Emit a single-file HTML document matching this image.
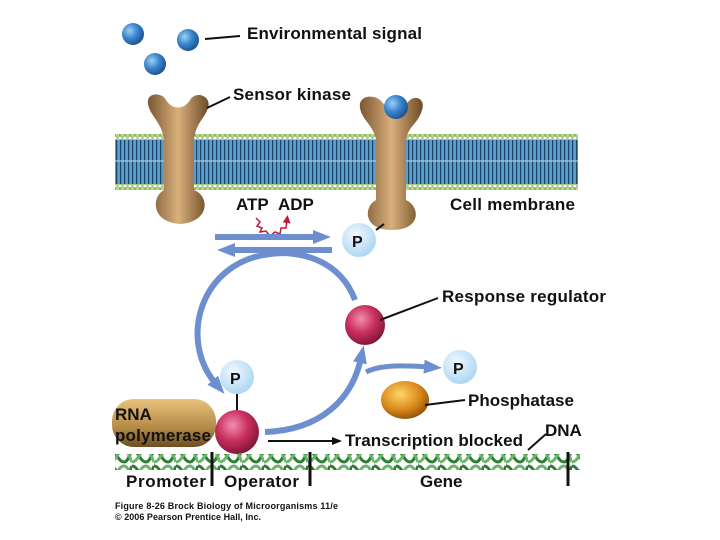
<!DOCTYPE html>
<html><head><style>body{margin:0;background:#fff}svg{display:block}text{font-family:"Liberation Sans",sans-serif;font-weight:bold;fill:#111}</style></head><body>
<svg width="720" height="540" viewBox="0 0 720 540">
<defs>
<radialGradient id="bl" cx="0.35" cy="0.35" r="0.7"><stop offset="0" stop-color="#9cd0f5"/><stop offset="0.5" stop-color="#3a86d0"/><stop offset="1" stop-color="#1d4f8e"/></radialGradient>
<radialGradient id="pk" cx="0.4" cy="0.35" r="0.7"><stop offset="0" stop-color="#f08fb0"/><stop offset="0.5" stop-color="#c9305f"/><stop offset="1" stop-color="#7a1235"/></radialGradient>
<radialGradient id="lp" cx="0.4" cy="0.35" r="0.7"><stop offset="0" stop-color="#f2f9ff"/><stop offset="1" stop-color="#a9d4f2"/></radialGradient>
<radialGradient id="or" cx="0.4" cy="0.35" r="0.7"><stop offset="0" stop-color="#ffd56a"/><stop offset="0.6" stop-color="#d9881a"/><stop offset="1" stop-color="#8a4c0a"/></radialGradient>
<linearGradient id="br" x1="0" x2="1"><stop offset="0" stop-color="#7a5630"/><stop offset="0.5" stop-color="#d9b07c"/><stop offset="1" stop-color="#6b4a26"/></linearGradient>
<linearGradient id="rp" x1="0" y1="0" x2="0" y2="1"><stop offset="0" stop-color="#e8c27c"/><stop offset="0.6" stop-color="#b58a46"/><stop offset="1" stop-color="#6d4e22"/></linearGradient>
<pattern id="mem" width="4" height="50" patternUnits="userSpaceOnUse"><rect width="4" height="50" fill="#5b9ccc"/><rect x="0" width="1.2" height="50" fill="#1c4668"/></pattern>
<pattern id="bead" width="5" height="6" patternUnits="userSpaceOnUse"><circle cx="2.5" cy="3" r="2.3" fill="#b6d88a" stroke="#6a9a44" stroke-width="0.6"/></pattern>
<pattern id="dna" width="22" height="16" patternUnits="userSpaceOnUse"><path d="M0 2 C6 2 8 14 14 14 C18 14 20 6 22 2" stroke="#2e7d32" stroke-width="3" fill="none"/><path d="M0 14 C6 14 8 2 14 2 C18 2 20 10 22 14" stroke="#6cb46c" stroke-width="3" fill="none"/></pattern>
<marker id="ah" markerUnits="userSpaceOnUse" markerWidth="18" markerHeight="18" refX="5" refY="9" orient="auto"><path d="M0,2 L18,9 L0,16z" fill="#6e8fcf"/></marker>
<marker id="ak" markerUnits="userSpaceOnUse" markerWidth="10" markerHeight="8" refX="8" refY="4" orient="auto"><path d="M0,0 L10,4 L0,8z" fill="#111"/></marker>
<marker id="ar" markerUnits="userSpaceOnUse" markerWidth="8" markerHeight="8" refX="3" refY="4" orient="auto"><path d="M0,0 L8,4 L0,8z" fill="#c2183a"/></marker>
</defs>
<rect x="115" y="140" width="463" height="44" fill="url(#mem)"/>
<rect x="115" y="160" width="463" height="2" fill="#a8cce8" opacity="0.6"/>
<rect x="115" y="134" width="463" height="6" fill="url(#bead)"/>
<rect x="115" y="184" width="463" height="6" fill="url(#bead)"/>
<path d="M148 104 C146 92 162 92 166 100 C172 110 184 110 190 100 C196 90 212 96 208 108 C204 120 196 122 194 140 L194 190 C210 196 210 222 180 224 C150 222 152 196 164 190 L164 140 C162 122 150 116 148 104Z" fill="url(#br)"/>
<path d="M360 108 C358 94 376 94 382 102 C388 110 402 110 408 102 C414 94 426 98 422 110 C418 124 408 126 406 140 L406 200 C420 206 422 230 392 230 C362 230 364 206 376 200 L376 140 C374 126 362 120 360 108Z" fill="url(#br)"/>
<circle cx="396" cy="107" r="12" fill="url(#bl)"/>
<circle cx="133" cy="34" r="11" fill="url(#bl)"/>
<circle cx="188" cy="40" r="11" fill="url(#bl)"/>
<circle cx="155" cy="64" r="11" fill="url(#bl)"/>
<line x1="205" y1="39" x2="240" y2="36" stroke="#111" stroke-width="2"/>
<text x="247" y="39" font-size="17" textLength="175">Environmental signal</text>
<line x1="207" y1="108" x2="230" y2="97" stroke="#111" stroke-width="2"/>
<text x="233" y="100" font-size="17" textLength="118">Sensor kinase</text>
<text x="450" y="210" font-size="17" textLength="125">Cell membrane</text>
<text x="236" y="210" font-size="17">ATP</text><text x="278" y="210" font-size="17">ADP</text>
<path d="M256 218 l4 4 l-3 4 l5 2 l-2 4 l6 -1 l4 5 l5 -4 l5 2 l1 -6 l5 0 l1 -8" stroke="#c2183a" stroke-width="1.5" fill="none" marker-end="url(#ar)"/>
<g stroke="#6e8fcf" stroke-width="6" fill="none">
<line x1="215" y1="237" x2="318" y2="237" marker-end="url(#ah)"/>
<line x1="332" y1="250" x2="230" y2="250" marker-end="url(#ah)"/>
<path d="M355 300 C340 260 300 250 270 254 C200 262 178 340 216 384" marker-end="url(#ah)"/>
<path d="M265 432 C320 430 352 400 361 358" marker-end="url(#ah)"/>
<path d="M366 372 C380 365 400 365 429 367" stroke-width="5" marker-end="url(#ah)"/>
</g>
<circle cx="359" cy="240" r="17" fill="url(#lp)"/><text x="352" y="247" font-size="16">P</text>
<line x1="376" y1="230" x2="384" y2="224" stroke="#111" stroke-width="2"/>
<circle cx="365" cy="325" r="20" fill="url(#pk)"/>
<line x1="380" y1="320" x2="438" y2="298" stroke="#111" stroke-width="2"/>
<text x="442" y="302" font-size="17" textLength="164">Response regulator</text>
<circle cx="460" cy="367" r="17" fill="url(#lp)"/><text x="453" y="374" font-size="16">P</text>
<ellipse cx="405" cy="400" rx="24" ry="19" fill="url(#or)"/>
<line x1="425" y1="405" x2="465" y2="400" stroke="#111" stroke-width="2"/>
<text x="468" y="406" font-size="17" textLength="106">Phosphatase</text>
<rect x="112" y="399" width="104" height="48" rx="22" fill="url(#rp)"/>
<text x="115" y="420" font-size="17">RNA</text>
<text x="115" y="441" font-size="17" textLength="96">polymerase</text>
<circle cx="237" cy="377" r="17" fill="url(#lp)"/><text x="230" y="384" font-size="16">P</text>
<line x1="237" y1="394" x2="237" y2="412" stroke="#111" stroke-width="2"/>
<circle cx="237" cy="432" r="22" fill="url(#pk)"/>
<line x1="268" y1="441" x2="340" y2="441" stroke="#111" stroke-width="2" marker-end="url(#ak)"/>
<text x="345" y="446" font-size="17" textLength="178">Transcription blocked</text>
<text x="545" y="436" font-size="17">DNA</text>
<line x1="528" y1="450" x2="546" y2="434" stroke="#111" stroke-width="2"/>
<rect x="115" y="454" width="465" height="16" fill="url(#dna)"/>
<g stroke="#111" stroke-width="3"><line x1="212" y1="452" x2="212" y2="486"/><line x1="310" y1="452" x2="310" y2="486"/><line x1="568" y1="452" x2="568" y2="486"/></g>
<text x="126" y="487" font-size="17" textLength="80">Promoter</text>
<text x="224" y="487" font-size="17" textLength="75">Operator</text>
<text x="420" y="487" font-size="17">Gene</text>
<text x="115" y="509" font-size="9" font-weight="normal" textLength="223">Figure 8-26  Brock Biology of Microorganisms 11/e</text>
<text x="115" y="520" font-size="9" font-weight="normal" textLength="146">© 2006 Pearson Prentice Hall, Inc.</text>
</svg>
</body></html>
